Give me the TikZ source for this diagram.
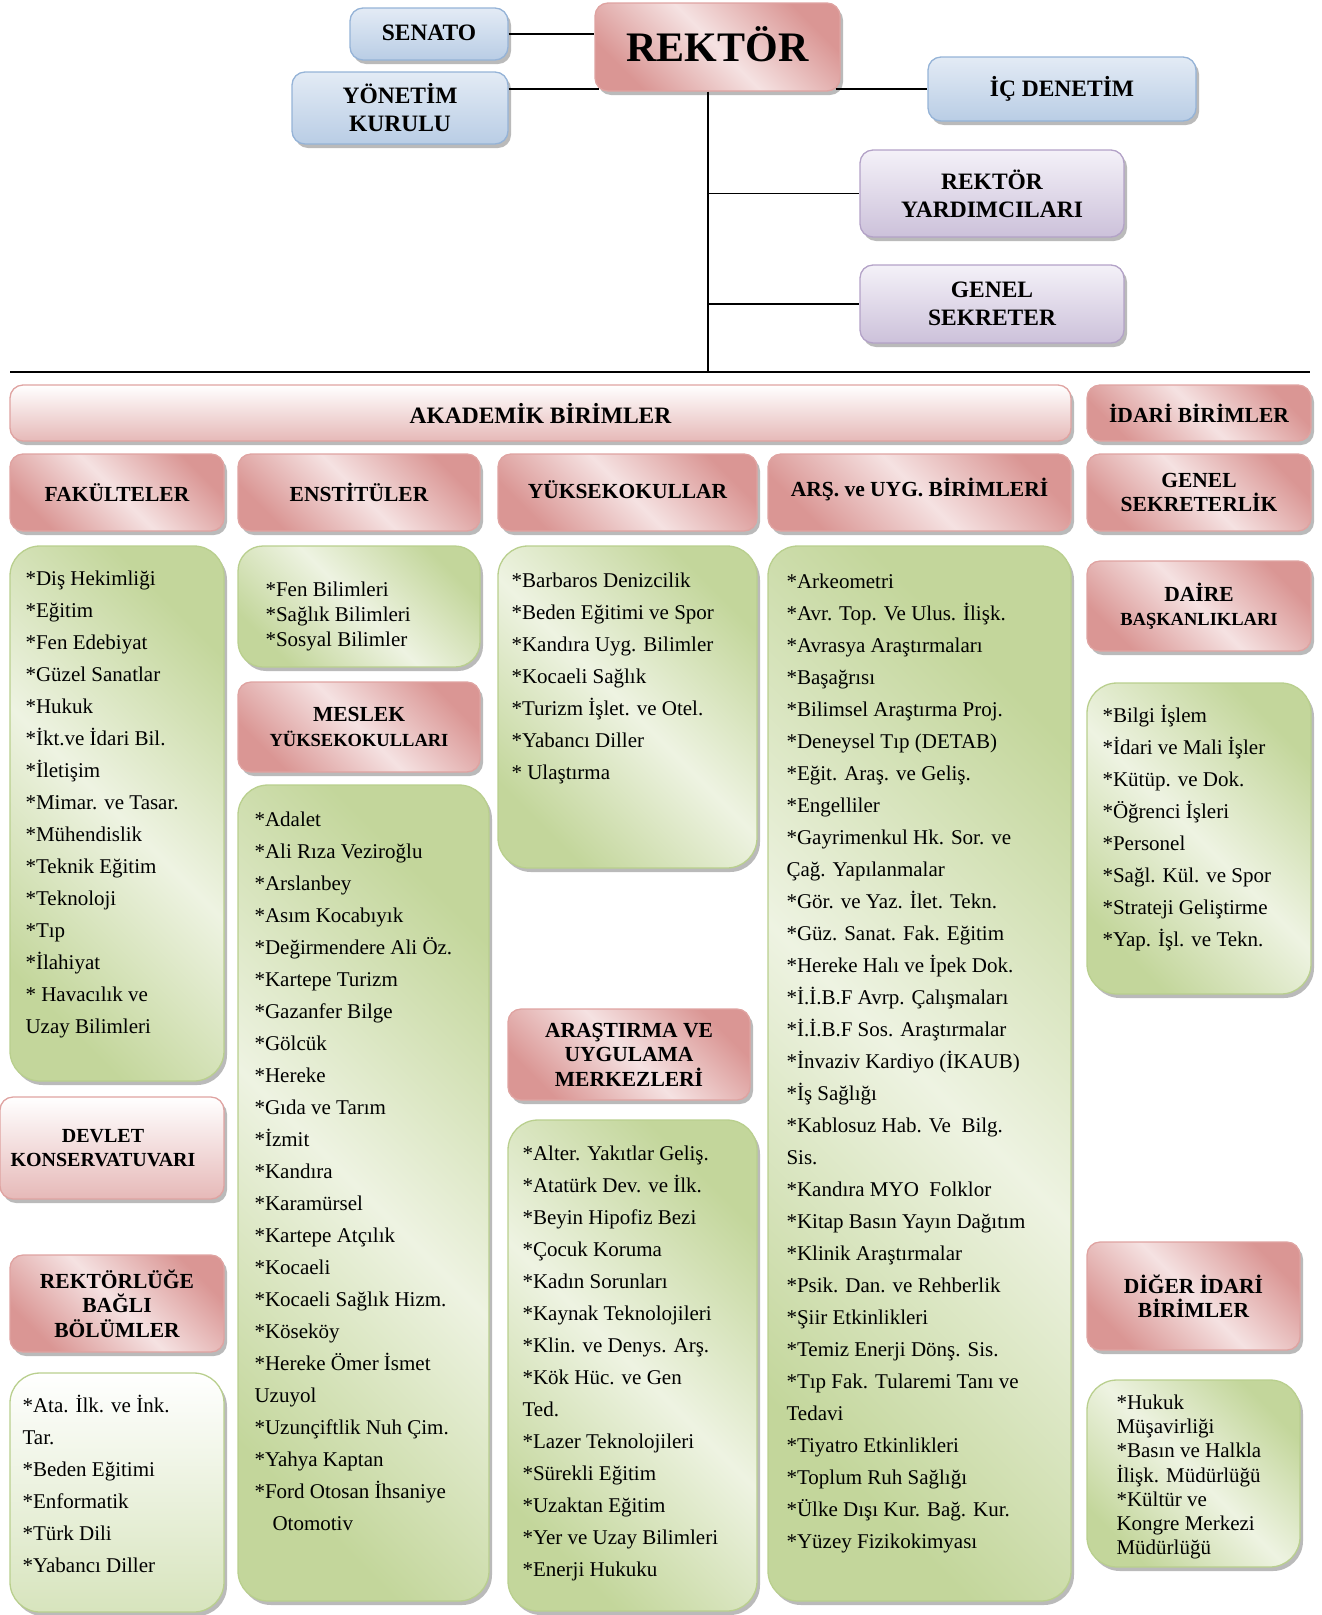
\documentclass[tikz,border=0pt]{standalone}
\usepackage{fontspec}
\setmainfont{Liberation Serif}
\usetikzlibrary{shadows}

\definecolor{pinkdark}{HTML}{DA9694}
\definecolor{pinklight}{HTML}{F5E2E2}
\definecolor{pinkedge}{HTML}{DFA3A1}
\definecolor{pinkmid}{HTML}{E6B9B8}
\definecolor{bluetop}{HTML}{E3EBF5}
\definecolor{bluebot}{HTML}{B9CDE5}
\definecolor{blueedge}{HTML}{95B3D7}
\definecolor{purtop}{HTML}{F4F1F8}
\definecolor{purbot}{HTML}{CCC1DA}
\definecolor{puredge}{HTML}{B3A2C7}
\definecolor{grndark}{HTML}{C3D69B}
\definecolor{grnlight}{HTML}{EEF3E2}
\definecolor{grnedge}{HTML}{B9CF8E}
\definecolor{grnmid}{HTML}{D7E4BD}

\tikzset{
  boxsize/.style 2 args={minimum width=#1pt, minimum height=#2pt},
  basebox/.style={rounded corners=13pt, line width=1.3pt, align=center, inner sep=2pt,
    drop shadow={shadow xshift=3pt, shadow yshift=-4pt, fill=black!45, opacity=.6}},
  bluebox/.style={basebox, draw=blueedge, top color=bluetop, bottom color=bluebot,
    font=\fontsize{23.5}{28}\selectfont\bfseries},
  purplebox/.style={basebox, draw=puredge, top color=purtop, bottom color=purbot,
    font=\fontsize{23.5}{28}\selectfont\bfseries},
  redbox/.style={basebox, draw=pinkedge, top color=pinkdark, bottom color=pinkdark,
    middle color=pinklight, shading angle=-45,
    font=\fontsize{21.5}{24.5}\selectfont\bfseries},
  palebox/.style={basebox, draw=pinkedge, top color=white, bottom color=pinkmid,
    font=\fontsize{21.5}{24.5}\selectfont\bfseries},
  greenbox/.style={basebox, rounded corners=30pt, draw=grnedge, top color=grndark,
    bottom color=grndark, middle color=grnlight, shading angle=-45},
  palegreen/.style={basebox, rounded corners=30pt, draw=grnedge, top color=white,
    bottom color=grnmid},
  % text block hangs from its first line (strut of 21pt above the baseline)
  listtext/.style={anchor=north west, align=left, inner sep=0pt,
    font=\fontsize{21}{32}\selectfont, execute at begin node={\rule{0pt}{21pt}}},
  conn/.style={line width=1.6pt}
}

\begin{document}
\begin{tikzpicture}[x=1pt, y=-1pt]
    \useasboundingbox (0,0) rectangle (1322,1615);

    % Top management
    \node[bluebox, boxsize={158}{52}] (senato) at (429,34) {\raisebox{2pt}{SENATO}};
    \node[bluebox, boxsize={216}{72}] (yonetim) at (400,108) {YÖNETİM\\KURULU};
    \node[redbox, boxsize={245}{88}, font=\fontsize{42}{46}\selectfont\bfseries] (rektor) at (717.5,47) {\raisebox{5pt}{REKTÖR}};
    \node[bluebox, boxsize={268}{64}] (icdenetim) at (1062,89) {\raisebox{-3pt}{İÇ DENETİM}};
    \node[purplebox, boxsize={264}{87}] (yardimci) at (992,193.5) {REKTÖR\\YARDIMCILARI};
    \node[purplebox, boxsize={264}{78}] (gensek) at (992,304) {GENEL\\SEKRETER};

    % Connectors
    \coordinate (trunk) at (708,372);
    \coordinate (ruleL) at (10,372);
    \coordinate (ruleR) at (1310,372);
    \draw[conn] (senato.east) -- (senato.east -| rektor.west);
    \draw[conn] (yonetim.east |- 0,89) -- ([xshift=5pt]rektor.west |- 0,89);
    \draw[conn] ([xshift=-5pt]rektor.east |- icdenetim.west) -- (icdenetim.west);
    \draw[conn] (rektor.south -| trunk) -- (trunk);
    \draw[conn] (trunk |- yardimci.west) -- (yardimci.west);
    \draw[conn] (trunk |- gensek.west) -- (gensek.west);
    \draw[line width=2pt] (ruleL) -- (ruleR);

    % Unit headers
    \node[palebox, boxsize={1061}{56}, font=\fontsize{23.5}{26}\selectfont\bfseries] (akademik) at (540.5,413) {AKADEMİK BİRİMLER};
    \node[redbox, boxsize={224}{56}] (idari) at (1199,413) {İDARİ BİRİMLER};
    \node[redbox, boxsize={214}{77}] (fakulteler) at (117,492.5) {FAKÜLTELER};
    \node[redbox, boxsize={242}{77}] (enstituler) at (359,492.5) {ENSTİTÜLER};
    \node[redbox, boxsize={259}{77}] (yuksekokullar) at (627.5,492.5) {\raisebox{6pt}{YÜKSEKOKULLAR}};
    \node[redbox, boxsize={303}{77}] (arsuyg) at (919.5,492.5) {\raisebox{10pt}{ARŞ. ve UYG. BİRİMLERİ}};
    \node[redbox, boxsize={224}{77}] (gensekreterlik) at (1199,492.5) {GENEL\\SEKRETERLİK};
    \node[redbox, boxsize={224}{90}] (daire) at (1199,606) {DAİRE\\{\fontsize{18.5}{22}\selectfont BAŞKANLIKLARI}};
    \node[redbox, boxsize={242}{90}] (meslek) at (359,727) {MESLEK\\{\fontsize{18.5}{22}\selectfont YÜKSEKOKULLARI}};
    \node[redbox, boxsize={242}{91}] (aummerk) at (629,1054.5) {ARAŞTIRMA VE\\UYGULAMA\\MERKEZLERİ};
    \node[palebox, boxsize={224}{102}, font=\fontsize{20}{24.5}\selectfont\bfseries] (devlet) at (112,1148) {DEVLET\hspace*{18pt}\\KONSERVATUVARI\hspace*{18pt}};
    \node[redbox, boxsize={214}{97}] (rektorluge) at (117,1303.5) {REKTÖRLÜĞE\\BAĞLI\\BÖLÜMLER};
    \node[redbox, boxsize={213}{108}] (diger) at (1193.5,1296) {DİĞER İDARİ\\BİRİMLER};

    % List boxes
    \node[greenbox, boxsize={214}{535}] (fakList) at (117,813.5) {};
    \node[greenbox, rounded corners=25pt, boxsize={242}{121}] (ensList) at (359,606.5) {};
    \node[greenbox, boxsize={251}{816}] (meslekList) at (363.5,1193) {};
    \node[greenbox, boxsize={259}{322}] (yoList) at (627.5,707) {};
    \node[greenbox, boxsize={249}{491}] (aumList) at (632.5,1365.5) {};
    \node[greenbox, boxsize={303}{1055}] (arsList) at (919.5,1073.5) {};
    \node[greenbox, boxsize={224}{311}] (daireList) at (1199,838.5) {};
    \node[greenbox, boxsize={213}{187}] (digerList) at (1193.5,1473.5) {};
    \node[palegreen, boxsize={214}{239}] (rbList) at (117,1492.5) {};

    % List texts
    \node[listtext] (fakText) at ([xshift=16pt, yshift=-25pt]fakList.north west)
        {*Diş Hekimliği\\*Eğitim\\*Fen Edebiyat\\*Güzel Sanatlar\\*Hukuk\\*İkt.ve İdari Bil.\\*İletişim\\*Mimar. ve Tasar.\\*Mühendislik\\*Teknik Eğitim\\*Teknoloji\\*Tıp\\*İlahiyat\\* Havacılık ve\\Uzay Bilimleri};
    \node[listtext, font=\fontsize{21}{25}\selectfont] (ensText) at ([xshift=28pt, yshift=-36pt]ensList.north west)
        {*Fen Bilimleri\\*Sağlık Bilimleri\\*Sosyal Bilimler};
    \node[listtext] (meslekText) at ([xshift=17pt, yshift=-27pt]meslekList.north west)
        {*Adalet\\*Ali Rıza Veziroğlu\\*Arslanbey\\*Asım Kocabıyık\\*Değirmendere Ali Öz.\\*Kartepe Turizm\\*Gazanfer Bilge\\*Gölcük\\*Hereke\\*Gıda ve Tarım\\*İzmit\\*Kandıra\\*Karamürsel\\*Kartepe Atçılık\\*Kocaeli\\*Kocaeli Sağlık Hizm.\\*Köseköy\\*Hereke Ömer İsmet\\Uzuyol\\*Uzunçiftlik Nuh Çim.\\*Yahya Kaptan\\*Ford Otosan İhsaniye\\\hspace*{18pt}Otomotiv};
    \node[listtext] (yoText) at ([xshift=14pt, yshift=-27pt]yoList.north west)
        {*Barbaros Denizcilik\\*Beden Eğitimi ve Spor\\*Kandıra Uyg. Bilimler\\*Kocaeli Sağlık\\*Turizm İşlet. ve Otel.\\*Yabancı Diller\\* Ulaştırma};
    \node[listtext] (aumText) at ([xshift=15pt, yshift=-26pt]aumList.north west)
        {*Alter. Yakıtlar Geliş.\\*Atatürk Dev. ve İlk.\\*Beyin Hipofiz Bezi\\*Çocuk Koruma\\*Kadın Sorunları\\*Kaynak Teknolojileri\\*Klin. ve Denys. Arş.\\*Kök Hüc. ve Gen\\Ted.\\*Lazer Teknolojileri\\*Sürekli Eğitim\\*Uzaktan Eğitim\\*Yer ve Uzay Bilimleri\\*Enerji Hukuku};
    \node[listtext] (arsText) at ([xshift=19pt, yshift=-28pt]arsList.north west)
        {*Arkeometri\\*Avr. Top. Ve Ulus. İlişk.\\*Avrasya Araştırmaları\\*Başağrısı\\*Bilimsel Araştırma Proj.\\*Deneysel Tıp (DETAB)\\*Eğit. Araş. ve Geliş.\\*Engelliler\\*Gayrimenkul Hk. Sor. ve\\Çağ. Yapılanmalar\\*Gör. ve Yaz. İlet. Tekn.\\*Güz. Sanat. Fak. Eğitim\\*Hereke Halı ve İpek Dok.\\*İ.İ.B.F Avrp. Çalışmaları\\*İ.İ.B.F Sos. Araştırmalar\\*İnvaziv Kardiyo (İKAUB)\\*İş Sağlığı\\*Kablosuz Hab. Ve~ Bilg.\\Sis.\\*Kandıra MYO~ Folklor\\*Kitap Basın Yayın Dağıtım\\*Klinik Araştırmalar\\*Psik. Dan. ve Rehberlik\\*Şiir Etkinlikleri\\*Temiz Enerji Dönş. Sis.\\*Tıp Fak. Tularemi Tanı ve\\Tedavi\\*Tiyatro Etkinlikleri\\*Toplum Ruh Sağlığı\\*Ülke Dışı Kur. Bağ. Kur.\\*Yüzey Fizikokimyası};
    \node[listtext] (daireText) at ([xshift=16pt, yshift=-23pt]daireList.north west)
        {*Bilgi İşlem\\*İdari ve Mali İşler\\*Kütüp. ve Dok.\\*Öğrenci İşleri\\*Personel\\*Sağl. Kül. ve Spor\\*Strateji Geliştirme\\*Yap. İşl. ve Tekn.};
    \node[listtext, font=\fontsize{21}{24.3}\selectfont] (digerText) at ([xshift=30pt, yshift=-15pt]digerList.north west)
        {*Hukuk\\Müşavirliği\\*Basın ve Halkla\\İlişk. Müdürlüğü\\*Kültür ve\\Kongre Merkezi\\Müdürlüğü};
    \node[listtext] (rbText) at ([xshift=13pt, yshift=-23pt]rbList.north west)
        {*Ata. İlk. ve İnk.\\Tar.\\*Beden Eğitimi\\*Enformatik\\*Türk Dili\\*Yabancı Diller};
\end{tikzpicture}
\end{document}
